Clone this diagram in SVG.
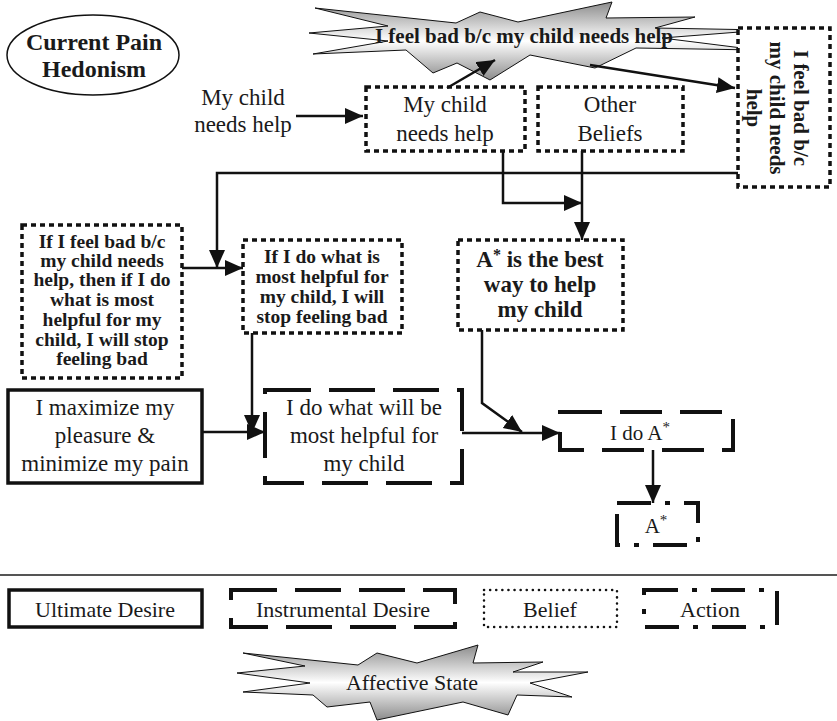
<svg xmlns="http://www.w3.org/2000/svg" width="837" height="721" viewBox="0 0 837 721">
  <defs>
    <linearGradient id="burst" x1="0" y1="0" x2="0" y2="1">
      <stop offset="0" stop-color="#8c8c8c"/>
      <stop offset="0.5" stop-color="#ffffff"/>
      <stop offset="1" stop-color="#8c8c8c"/>
    </linearGradient>
    <marker id="arrow" markerUnits="userSpaceOnUse" markerWidth="20" markerHeight="18" refX="18" refY="8" orient="auto">
      <path d="M0,0 L18,8 L0,16 z" fill="#111"/>
    </marker>
    <style>
      text { font-family: "Liberation Serif", "Times New Roman", serif; fill: #1a1a1a; text-anchor: middle; }
      .b { font-weight: bold; }
      .ultimate { fill: #fff; stroke: #111; stroke-width: 3.5; }
      .instrumental { fill: #fff; stroke: #111; stroke-width: 4; stroke-dasharray: 46 18; }
      .belief { fill: #fff; stroke: #111; stroke-width: 3.5; stroke-dasharray: 5 4; }
      .belief-key { fill: #fff; stroke: #111; stroke-width: 2.5; stroke-dasharray: 0.1 6; stroke-linecap: round; }
      .action { fill: #fff; stroke: #111; stroke-width: 4; stroke-dasharray: 34 14 5 14; }
      .action.long { stroke-dasharray: 42 18; }
      .burst { fill: url(#burst); stroke: #111; stroke-width: 1; stroke-linejoin: miter; }
      .link { fill: none; stroke: #111; stroke-width: 2.5; }
      .arr { marker-end: url(#arrow); }
    </style>
  </defs>

  <rect width="837" height="721" fill="#fff"/>

  <!-- title -->
  <g id="title">
    <ellipse cx="93" cy="55" rx="86" ry="40" fill="#fff" stroke="#111" stroke-width="1.5"/>
    <text class="b" x="94" y="50" font-size="24">Current Pain</text>
    <text class="b" x="94" y="77" font-size="24">Hedonism</text>
  </g>

  <!-- affective state -->
  <g id="feel-bad-state">
    <polygon class="burst" points="315,8 456,23 480,12 518,22 612,2 606,18 695,17 655,28 765,30 662,38 758,50 636,48 595,68 530,55 490,80 457,63 433,73 406,50 313,54 388,41 309,33 388,26"/>
    <text class="b" x="524" y="43" font-size="21">I feel bad b/c my child needs help</text>
  </g>

  <!-- input -->
  <g id="input-child-needs-help">
    <text x="243" y="105" font-size="23">My child</text>
    <text x="243" y="132" font-size="23">needs help</text>
  </g>

  <!-- beliefs -->
  <g id="belief-child-needs-help">
    <rect class="belief" x="366" y="87" width="159" height="64"/>
    <text x="445" y="112" font-size="23">My child</text>
    <text x="445" y="141" font-size="23">needs help</text>
  </g>

  <g id="belief-other">
    <rect class="belief" x="538" y="87" width="145" height="64"/>
    <text x="610" y="112" font-size="23">Other</text>
    <text x="610" y="141" font-size="23">Beliefs</text>
  </g>

  <g id="belief-feel-bad">
    <rect class="belief" x="738" y="28" width="92" height="159"/>
    <g transform="translate(784,108) rotate(90)">
      <text class="b" x="0" y="-10" font-size="21">I feel bad b/c</text>
      <text class="b" x="0" y="14" font-size="21">my child needs</text>
      <text class="b" x="0" y="37" font-size="21">help</text>
    </g>
  </g>

  <g id="belief-conditional">
    <rect class="belief" x="22" y="225" width="160" height="153"/>
    <text class="b" x="102" y="248" font-size="19.5">If I feel bad b/c</text>
    <text class="b" x="102" y="267" font-size="19.5">my child needs</text>
    <text class="b" x="102" y="286" font-size="19.5">help, then if I do</text>
    <text class="b" x="102" y="306" font-size="19.5">what is most</text>
    <text class="b" x="102" y="326" font-size="19.5">helpful for my</text>
    <text class="b" x="102" y="346" font-size="19.5">child, I will stop</text>
    <text class="b" x="102" y="365" font-size="19.5">feeling bad</text>
  </g>

  <g id="belief-helpful-stops-bad">
    <rect class="belief" x="243" y="240" width="159" height="93"/>
    <text class="b" x="322" y="263" font-size="19.5">If I do what is</text>
    <text class="b" x="322" y="283" font-size="19.5">most helpful for</text>
    <text class="b" x="322" y="303" font-size="19.5">my child, I will</text>
    <text class="b" x="322" y="323" font-size="19.5">stop feeling bad</text>
  </g>

  <g id="belief-best-way">
    <rect class="belief" x="458" y="240" width="165" height="90"/>
    <text class="b" x="540" y="267" font-size="23">A<tspan dy="-7" font-size="16">*</tspan><tspan dy="7"> is the best</tspan></text>
    <text class="b" x="540" y="292" font-size="23">way to help</text>
    <text class="b" x="540" y="317" font-size="23">my child</text>
  </g>

  <!-- desires -->
  <g id="ultimate-desire">
    <rect class="ultimate" x="8" y="390" width="194" height="93"/>
    <text x="105" y="415" font-size="23">I maximize my</text>
    <text x="105" y="443" font-size="23">pleasure &amp;</text>
    <text x="105" y="471" font-size="23">minimize my pain</text>
  </g>

  <g id="instrumental-desire">
    <rect class="instrumental" x="265" y="390" width="197" height="93"/>
    <text x="364" y="415" font-size="23">I do what will be</text>
    <text x="364" y="443" font-size="23">most helpful for</text>
    <text x="364" y="471" font-size="23">my child</text>
  </g>

  <!-- actions -->
  <g id="action-do-a">
    <rect class="action long" x="560" y="412" width="173" height="38"/>
    <text x="640" y="440" font-size="21">I do A<tspan dy="-8" font-size="15">*</tspan></text>
  </g>

  <g id="action-a">
    <rect class="action" x="617" y="503" width="81" height="42"/>
    <text x="656" y="533" font-size="21">A<tspan dy="-8" font-size="15">*</tspan></text>
  </g>

  <!-- connectors, drawn over the nodes so arrowheads stay visible -->
  <g id="connectors">
    <line class="link arr" x1="296" y1="116" x2="363" y2="116"/>
    <line class="link arr" x1="447" y1="88" x2="495" y2="60"/>
    <line class="link arr" x1="590" y1="65" x2="735" y2="88"/>
    <polyline class="link arr" points="738,173 217,173 217,268"/>
    <line class="link arr" x1="182" y1="268" x2="243" y2="268"/>
    <polyline class="link arr" points="503,151 503,203 582,203"/>
    <line class="link arr" x1="582" y1="151" x2="582" y2="240"/>
    <line class="link arr" x1="252" y1="333" x2="252" y2="433"/>
    <line class="link arr" x1="202" y1="432" x2="265" y2="432"/>
    <line class="link arr" x1="462" y1="433" x2="560" y2="433"/>
    <polyline class="link arr" points="482,330 482,403 522,432"/>
    <line class="link arr" x1="653" y1="450" x2="653" y2="503"/>
  </g>

  <!-- key -->
  <line x1="0" y1="575" x2="837" y2="575" stroke="#555" stroke-width="2"/>

  <g id="key-ultimate">
    <rect class="ultimate" x="9" y="590" width="193" height="37"/>
    <text x="105" y="617" font-size="22">Ultimate Desire</text>
  </g>
  <g id="key-instrumental">
    <rect class="instrumental" x="231" y="590" width="224" height="37"/>
    <text x="343" y="617" font-size="22">Instrumental Desire</text>
  </g>
  <g id="key-belief">
    <rect class="belief-key" x="484" y="590" width="133" height="37"/>
    <text x="550" y="617" font-size="22">Belief</text>
  </g>
  <g id="key-action">
    <rect class="action" x="644" y="590" width="133" height="37"/>
    <text x="710" y="617" font-size="22">Action</text>
  </g>
  <g id="key-affective">
    <polygon class="burst" points="243,653 358,665 377,653 417,663 478,645 473,663 543,662 513,672 588,672 530,683 572,697 517,695 508,715 463,702 377,720 370,702 327,707 313,695 243,692 310,683 237,673 305,666"/>
    <text x="412" y="690" font-size="22">Affective State</text>
  </g>
</svg>
